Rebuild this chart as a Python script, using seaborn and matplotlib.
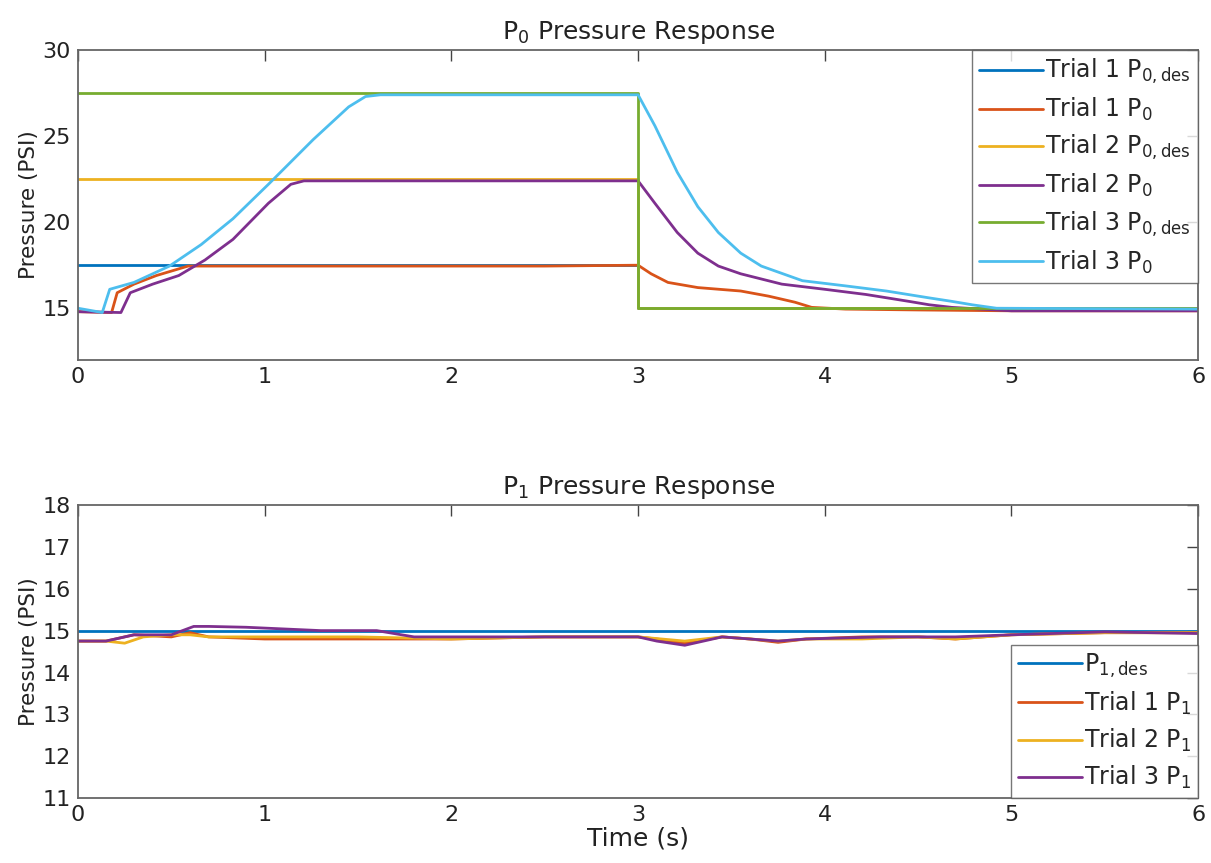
import matplotlib
matplotlib.use("Agg")
import matplotlib.pyplot as plt
import seaborn as sns

# MATLAB default line colours
colors = ["#0072BD", "#D95319", "#EDB120", "#7E2F8E", "#77AC30", "#4DBEEE"]

# ---- top panel: P0 ----
des_t = [0, 3, 3, 6]
t1_des = [17.5, 17.5, 15.0, 15.0]
t2_des = [22.5, 22.5, 15.0, 15.0]
t3_des = [27.5, 27.5, 15.0, 15.0]

t1_p0_t = [0, 0.18, 0.21, 0.3, 0.42, 0.59, 0.7, 1.5, 2.5, 3.0, 3.07, 3.16, 3.32, 3.55, 3.7, 3.84, 3.93, 4.11, 4.5, 5.0, 6.0]
t1_p0 = [14.8, 14.75, 15.9, 16.4, 16.9, 17.45, 17.45, 17.45, 17.45, 17.5, 17.0, 16.5, 16.2, 16.0, 15.7, 15.35, 15.05, 14.95, 14.9, 14.85, 14.85]

t2_p0_t = [0, 0.23, 0.28, 0.4, 0.54, 0.68, 0.83, 1.02, 1.14, 1.21, 1.5, 2.0, 2.5, 3.0, 3.09, 3.21, 3.32, 3.43, 3.55, 3.77, 4.0, 4.22, 4.45, 4.56, 4.68, 5.0, 6.0]
t2_p0 = [14.8, 14.75, 15.9, 16.4, 16.9, 17.8, 19.0, 21.1, 22.2, 22.4, 22.4, 22.4, 22.4, 22.4, 21.1, 19.4, 18.2, 17.45, 17.0, 16.4, 16.1, 15.8, 15.4, 15.2, 15.05, 14.85, 14.85]

t3_p0_t = [0, 0.13, 0.17, 0.3, 0.49, 0.66, 0.83, 1.02, 1.26, 1.45, 1.54, 1.62, 2.0, 2.5, 3.0, 3.09, 3.21, 3.32, 3.43, 3.55, 3.66, 3.88, 4.11, 4.33, 4.56, 4.68, 4.79, 4.92, 6.0]
t3_p0 = [15.0, 14.75, 16.1, 16.5, 17.45, 18.7, 20.2, 22.2, 24.8, 26.7, 27.3, 27.4, 27.4, 27.4, 27.4, 25.6, 22.9, 20.9, 19.4, 18.2, 17.45, 16.6, 16.3, 16.0, 15.6, 15.4, 15.2, 15.0, 14.95]

# ---- bottom panel: P1 ----
p1_des_t = [0, 6]
p1_des = [15.0, 15.0]

t1_p1_t = [0, 0.15, 0.3, 0.5, 0.6, 0.7, 1.0, 1.5, 2.0, 2.5, 3.0, 3.1, 3.25, 3.45, 3.6, 3.75, 3.9, 4.2, 4.5, 4.7, 5.0, 5.5, 6.0]
t1_p1 = [14.75, 14.75, 14.9, 14.85, 14.95, 14.85, 14.8, 14.8, 14.8, 14.85, 14.85, 14.8, 14.7, 14.85, 14.8, 14.72, 14.8, 14.85, 14.85, 14.8, 14.9, 14.95, 14.95]

t2_p1_t = [0, 0.15, 0.25, 0.35, 0.5, 0.6, 0.7, 1.0, 1.5, 2.0, 2.5, 3.0, 3.25, 3.45, 3.6, 3.75, 3.9, 4.2, 4.5, 4.7, 5.0, 5.5, 6.0]
t2_p1 = [14.75, 14.75, 14.7, 14.85, 14.9, 14.9, 14.85, 14.85, 14.85, 14.8, 14.85, 14.85, 14.75, 14.85, 14.8, 14.75, 14.8, 14.8, 14.85, 14.8, 14.9, 14.95, 14.95]

t3_p1_t = [0, 0.15, 0.3, 0.5, 0.62, 0.7, 0.9, 1.3, 1.6, 1.8, 2.0, 2.5, 3.0, 3.1, 3.25, 3.45, 3.6, 3.75, 3.9, 4.3, 4.7, 5.0, 5.5, 6.0]
t3_p1 = [14.75, 14.75, 14.9, 14.9, 15.1, 15.1, 15.08, 15.0, 15.0, 14.85, 14.85, 14.85, 14.85, 14.75, 14.65, 14.85, 14.8, 14.75, 14.8, 14.85, 14.85, 14.9, 14.97, 14.93]

sns.set_style("white")
plt.rcParams["font.family"] = ["DejaVu Sans"]
plt.rcParams["mathtext.default"] = "regular"

fig = plt.figure(figsize=(12.11, 8.63), dpi=100)
ax1 = fig.add_axes([0.0644, 0.583, 0.925, 0.359])
ax2 = fig.add_axes([0.0644, 0.075, 0.925, 0.340])

top_series = [
    (des_t, t1_des, "Trial 1 P$_{0,des}$"),
    (t1_p0_t, t1_p0, "Trial 1 P$_0$"),
    (des_t, t2_des, "Trial 2 P$_{0,des}$"),
    (t2_p0_t, t2_p0, "Trial 2 P$_0$"),
    (des_t, t3_des, "Trial 3 P$_{0,des}$"),
    (t3_p0_t, t3_p0, "Trial 3 P$_0$"),
]
for i, (x, y, lab) in enumerate(top_series):
    sns.lineplot(x=x, y=y, color=colors[i], label=lab, ax=ax1,
                 estimator=None, sort=False, linewidth=2.0)

bottom_series = [
    (p1_des_t, p1_des, "P$_{1,des}$"),
    (t1_p1_t, t1_p1, "Trial 1 P$_1$"),
    (t2_p1_t, t2_p1, "Trial 2 P$_1$"),
    (t3_p1_t, t3_p1, "Trial 3 P$_1$"),
]
for i, (x, y, lab) in enumerate(bottom_series):
    sns.lineplot(x=x, y=y, color=colors[i], label=lab, ax=ax2,
                 estimator=None, sort=False, linewidth=2.0)

ax1.set(xlim=(0, 6), ylim=(12, 30), yticks=[15, 20, 25, 30])
ax2.set(xlim=(0, 6), ylim=(11, 18), yticks=list(range(11, 19)))
ax1.set_title("P$_0$ Pressure Response", fontsize=18, color="#222222", pad=8)
ax2.set_title("P$_1$ Pressure Response", fontsize=18, color="#222222", pad=8)
ax1.set_ylabel("Pressure (PSI)", fontsize=15.5, color="#222222", labelpad=3)
ax2.set_ylabel("Pressure (PSI)", fontsize=15.5, color="#222222", labelpad=3)
ax2.set_xlabel("Time (s)", fontsize=18, color="#222222", labelpad=1)

for ax in (ax1, ax2):
    ax.tick_params(direction="in", top=True, right=True, labelsize=16,
                   length=8, width=1, color="#444444", labelcolor="#222222",
                   pad=5)
    for s in ax.spines.values():
        s.set_color("#666666")
        s.set_linewidth(1.3)

leg_kw = dict(fontsize=17, frameon=True, fancybox=False, edgecolor="#555555",
              handlelength=2.7, borderpad=0.3, labelspacing=0.42,
              handletextpad=0.1, borderaxespad=0)
ax1.legend(loc="upper right", **leg_kw)
ax2.legend(loc="lower right", **leg_kw)

plt.savefig("out.png", dpi=100)
